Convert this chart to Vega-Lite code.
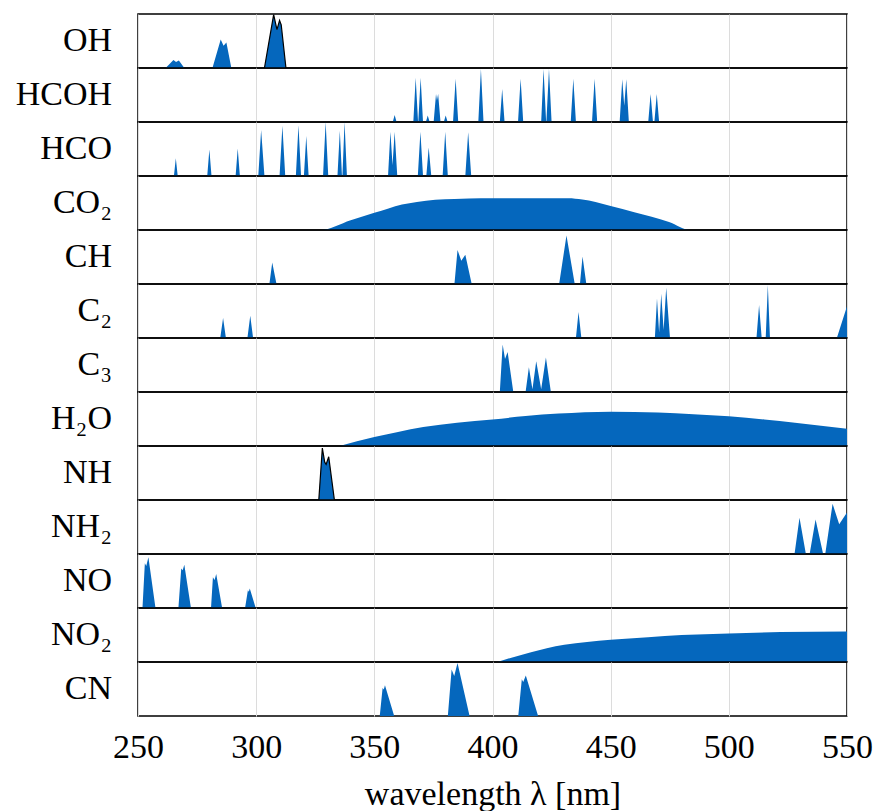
{
"$schema": "https://vega.github.io/schema/vega-lite/v6.json",
"padding": {"left": 15, "top": 13, "right": 0, "bottom": 0},
"bounds": "flush",
"datasets": {"spec": [
{"s":"OH","x":261.7,"y":0},{"s":"OH","x":265.0,"y":0.15},{"s":"OH","x":266.1,"y":0.11},{"s":"OH","x":267.3,"y":0.14},{"s":"OH","x":269.6,"y":0},
{"s":"OH","x":281.5,"y":0},{"s":"OH","x":285.0,"y":0.53},{"s":"OH","x":286.2,"y":0.41},{"s":"OH","x":287.4,"y":0.47},{"s":"OH","x":289.5,"y":0},
{"s":"OH","x":303.5,"y":0},{"s":"OH","x":307.4,"y":0.99},{"s":"OH","x":308.8,"y":0.71},{"s":"OH","x":309.9,"y":0.88},{"s":"OH","x":310.6,"y":0.8},{"s":"OH","x":312.6,"y":0},
{"s":"HCOH","x":300,"y":0},
{"s":"HCOH","x":357.8,"y":0},{"s":"HCOH","x":358.6,"y":0.13},{"s":"HCOH","x":359.4,"y":0},
{"s":"HCOH","x":366.5,"y":0},{"s":"HCOH","x":367.5,"y":0.82},{"s":"HCOH","x":368.5,"y":0},
{"s":"HCOH","x":368.6,"y":0},{"s":"HCOH","x":369.6,"y":0.82},{"s":"HCOH","x":370.6,"y":0},
{"s":"HCOH","x":371.8,"y":0},{"s":"HCOH","x":372.6,"y":0.12},{"s":"HCOH","x":373.4,"y":0},
{"s":"HCOH","x":375.1,"y":0},{"s":"HCOH","x":376.1,"y":0.52},{"s":"HCOH","x":376.5,"y":0.4},{"s":"HCOH","x":377.0,"y":0.52},{"s":"HCOH","x":378.0,"y":0},
{"s":"HCOH","x":379.4,"y":0},{"s":"HCOH","x":380.2,"y":0.12},{"s":"HCOH","x":381.0,"y":0},
{"s":"HCOH","x":383.3,"y":0},{"s":"HCOH","x":384.4,"y":0.8},{"s":"HCOH","x":385.5,"y":0},
{"s":"HCOH","x":394.0,"y":0},{"s":"HCOH","x":395.1,"y":0.98},{"s":"HCOH","x":396.2,"y":0},
{"s":"HCOH","x":403.1,"y":0},{"s":"HCOH","x":404.1,"y":0.61},{"s":"HCOH","x":405.1,"y":0},
{"s":"HCOH","x":410.8,"y":0},{"s":"HCOH","x":411.9,"y":0.8},{"s":"HCOH","x":413.0,"y":0},
{"s":"HCOH","x":420.6,"y":0},{"s":"HCOH","x":421.6,"y":0.98},{"s":"HCOH","x":422.7,"y":0},
{"s":"HCOH","x":422.8,"y":0},{"s":"HCOH","x":423.9,"y":0.98},{"s":"HCOH","x":425.0,"y":0},
{"s":"HCOH","x":433.1,"y":0},{"s":"HCOH","x":434.2,"y":0.8},{"s":"HCOH","x":435.3,"y":0},
{"s":"HCOH","x":442.1,"y":0},{"s":"HCOH","x":443.2,"y":0.8},{"s":"HCOH","x":444.3,"y":0},
{"s":"HCOH","x":453.8,"y":0},{"s":"HCOH","x":454.9,"y":0.79},{"s":"HCOH","x":455.75,"y":0.3},{"s":"HCOH","x":456.6,"y":0.79},{"s":"HCOH","x":457.7,"y":0},
{"s":"HCOH","x":465.9,"y":0},{"s":"HCOH","x":466.9,"y":0.52},{"s":"HCOH","x":467.9,"y":0},
{"s":"HCOH","x":468.5,"y":0},{"s":"HCOH","x":469.5,"y":0.52},{"s":"HCOH","x":470.5,"y":0},
{"s":"HCOH","x":550,"y":0},
{"s":"HCO","x":265.2,"y":0},{"s":"HCO","x":266.0,"y":0.33},{"s":"HCO","x":266.8,"y":0},
{"s":"HCO","x":279.3,"y":0},{"s":"HCO","x":280.2,"y":0.49},{"s":"HCO","x":281.1,"y":0},
{"s":"HCO","x":291.3,"y":0},{"s":"HCO","x":292.2,"y":0.51},{"s":"HCO","x":293.1,"y":0},
{"s":"HCO","x":300.9,"y":0},{"s":"HCO","x":302.1,"y":0.85},{"s":"HCO","x":303.5,"y":0},
{"s":"HCO","x":309.9,"y":0},{"s":"HCO","x":311.1,"y":0.93},{"s":"HCO","x":312.3,"y":0},
{"s":"HCO","x":316.8,"y":0},{"s":"HCO","x":317.9,"y":0.94},{"s":"HCO","x":319.0,"y":0},
{"s":"HCO","x":320.2,"y":0},{"s":"HCO","x":321.2,"y":0.74},{"s":"HCO","x":322.2,"y":0},
{"s":"HCO","x":328.3,"y":0},{"s":"HCO","x":329.4,"y":1.0},{"s":"HCO","x":330.5,"y":0},
{"s":"HCO","x":334.4,"y":0},{"s":"HCO","x":335.4,"y":0.84},{"s":"HCO","x":336.3,"y":0},
{"s":"HCO","x":336.5,"y":0},{"s":"HCO","x":337.4,"y":1.0},{"s":"HCO","x":338.4,"y":0},
{"s":"HCO","x":355.8,"y":0},{"s":"HCO","x":356.8,"y":0.82},{"s":"HCO","x":357.7,"y":0.2},{"s":"HCO","x":358.6,"y":0.82},{"s":"HCO","x":359.7,"y":0},
{"s":"HCO","x":368.4,"y":0},{"s":"HCO","x":369.5,"y":0.82},{"s":"HCO","x":370.6,"y":0},
{"s":"HCO","x":372.0,"y":0},{"s":"HCO","x":373.0,"y":0.53},{"s":"HCO","x":374.1,"y":0},
{"s":"HCO","x":378.9,"y":0},{"s":"HCO","x":380.0,"y":0.82},{"s":"HCO","x":381.1,"y":0},
{"s":"HCO","x":388.5,"y":0},{"s":"HCO","x":389.7,"y":0.81},{"s":"HCO","x":391.0,"y":0},
{"s":"CO₂","x":297,"y":0},{"s":"CO₂","x":327.1,"y":0},{"s":"CO₂","x":340,"y":0.18},{"s":"CO₂","x":350,"y":0.32},{"s":"CO₂","x":356,"y":0.4},{"s":"CO₂","x":361.7,"y":0.47},{"s":"CO₂","x":368,"y":0.52},{"s":"CO₂","x":375.8,"y":0.56},{"s":"CO₂","x":384,"y":0.575},{"s":"CO₂","x":390,"y":0.585},{"s":"CO₂","x":400,"y":0.59},{"s":"CO₂","x":432,"y":0.59},{"s":"CO₂","x":438,"y":0.565},{"s":"CO₂","x":443.6,"y":0.52},{"s":"CO₂","x":450,"y":0.445},{"s":"CO₂","x":460,"y":0.33},{"s":"CO₂","x":474.7,"y":0.15},{"s":"CO₂","x":483.9,"y":0},{"s":"CO₂","x":535,"y":0},
{"s":"CH","x":305.6,"y":0},{"s":"CH","x":306.8,"y":0.4},{"s":"CH","x":308.6,"y":0},
{"s":"CH","x":383.9,"y":0},{"s":"CH","x":385.2,"y":0.63},{"s":"CH","x":386.8,"y":0.43},{"s":"CH","x":388.5,"y":0.54},{"s":"CH","x":391.2,"y":0},
{"s":"CH","x":428.2,"y":0},{"s":"CH","x":431.3,"y":0.9},{"s":"CH","x":434.8,"y":0},
{"s":"CH","x":437.0,"y":0},{"s":"CH","x":438.1,"y":0.51},{"s":"CH","x":439.7,"y":0},
{"s":"C₂","x":284.8,"y":0},{"s":"C₂","x":286.0,"y":0.37},{"s":"C₂","x":287.2,"y":0},
{"s":"C₂","x":296.3,"y":0},{"s":"C₂","x":297.5,"y":0.41},{"s":"C₂","x":298.7,"y":0},
{"s":"C₂","x":435.3,"y":0},{"s":"C₂","x":436.4,"y":0.48},{"s":"C₂","x":437.6,"y":0},
{"s":"C₂","x":468.7,"y":0},{"s":"C₂","x":469.6,"y":0.73},{"s":"C₂","x":470.5,"y":0.1},{"s":"C₂","x":471.4,"y":0.82},{"s":"C₂","x":472.4,"y":0.15},{"s":"C₂","x":473.5,"y":0.93},{"s":"C₂","x":475.1,"y":0},
{"s":"C₂","x":511.7,"y":0},{"s":"C₂","x":512.8,"y":0.61},{"s":"C₂","x":513.9,"y":0},
{"s":"C₂","x":515.6,"y":0},{"s":"C₂","x":516.5,"y":0.98},{"s":"C₂","x":517.4,"y":0},
{"s":"C₂","x":545.7,"y":0},{"s":"C₂","x":550,"y":0.59},
{"s":"C₃","x":403.1,"y":0},{"s":"C₃","x":404.3,"y":0.88},{"s":"C₃","x":405.3,"y":0.61},{"s":"C₃","x":406.4,"y":0.74},{"s":"C₃","x":408.8,"y":0},
{"s":"C₃","x":414.0,"y":0},{"s":"C₃","x":415.4,"y":0.46},{"s":"C₃","x":416.9,"y":0.05},{"s":"C₃","x":418.5,"y":0.57},{"s":"C₃","x":420.6,"y":0.05},{"s":"C₃","x":422.6,"y":0.64},{"s":"C₃","x":424.7,"y":0},
{"s":"H₂O","x":335.3,"y":0},{"s":"H₂O","x":350,"y":0.165},{"s":"H₂O","x":360,"y":0.26},{"s":"H₂O","x":370.7,"y":0.35},{"s":"H₂O","x":385,"y":0.43},{"s":"H₂O","x":400,"y":0.49},{"s":"H₂O","x":414,"y":0.555},{"s":"H₂O","x":428,"y":0.6},{"s":"H₂O","x":450,"y":0.635},{"s":"H₂O","x":470,"y":0.62},{"s":"H₂O","x":485,"y":0.59},{"s":"H₂O","x":500,"y":0.55},{"s":"H₂O","x":515,"y":0.49},{"s":"H₂O","x":528,"y":0.43},{"s":"H₂O","x":550,"y":0.32},
{"s":"NH","x":299.8,"y":0},{"s":"NH","x":326.5,"y":0},{"s":"NH","x":328.0,"y":0.96},{"s":"NH","x":329.0,"y":0.7},{"s":"NH","x":329.6,"y":0.66},{"s":"NH","x":330.7,"y":0.8},{"s":"NH","x":333.1,"y":0},{"s":"NH","x":405.8,"y":0},
{"s":"NH₂","x":527.8,"y":0},{"s":"NH₂","x":529.9,"y":0.67},{"s":"NH₂","x":532.6,"y":0},
{"s":"NH₂","x":534.2,"y":0},{"s":"NH₂","x":536.7,"y":0.64},{"s":"NH₂","x":539.9,"y":0},
{"s":"NH₂","x":540.8,"y":0},{"s":"NH₂","x":543.9,"y":0.93},{"s":"NH₂","x":546.7,"y":0.55},{"s":"NH₂","x":550,"y":0.77},
{"s":"NO","x":251.9,"y":0},{"s":"NO","x":252.9,"y":0.83},{"s":"NO","x":253.5,"y":0.78},{"s":"NO","x":254.4,"y":0.94},{"s":"NO","x":257.4,"y":0},
{"s":"NO","x":267.1,"y":0},{"s":"NO","x":268.3,"y":0.73},{"s":"NO","x":268.9,"y":0.7},{"s":"NO","x":269.6,"y":0.8},{"s":"NO","x":272.4,"y":0},
{"s":"NO","x":280.9,"y":0},{"s":"NO","x":281.7,"y":0.57},{"s":"NO","x":282.4,"y":0.52},{"s":"NO","x":283.1,"y":0.63},{"s":"NO","x":285.6,"y":0},
{"s":"NO","x":295.3,"y":0},{"s":"NO","x":296.5,"y":0.33},{"s":"NO","x":296.9,"y":0.3},{"s":"NO","x":297.3,"y":0.36},{"s":"NO","x":299.8,"y":0},
{"s":"NO₂","x":402.1,"y":0},{"s":"NO₂","x":408,"y":0.08},{"s":"NO₂","x":416.3,"y":0.18},{"s":"NO₂","x":423,"y":0.255},{"s":"NO₂","x":430.4,"y":0.32},{"s":"NO₂","x":440,"y":0.37},{"s":"NO₂","x":450,"y":0.41},{"s":"NO₂","x":465.8,"y":0.46},{"s":"NO₂","x":480,"y":0.5},{"s":"NO₂","x":500,"y":0.53},{"s":"NO₂","x":522,"y":0.555},{"s":"NO₂","x":550,"y":0.565},
{"s":"CN","x":352.3,"y":0},{"s":"CN","x":353.5,"y":0.52},{"s":"CN","x":354.0,"y":0.49},{"s":"CN","x":354.5,"y":0.57},{"s":"CN","x":358.4,"y":0},
{"s":"CN","x":381.1,"y":0},{"s":"CN","x":382.7,"y":0.86},{"s":"CN","x":383.8,"y":0.74},{"s":"CN","x":385.2,"y":0.98},{"s":"CN","x":390.3,"y":0},
{"s":"CN","x":410.9,"y":0},{"s":"CN","x":412.4,"y":0.68},{"s":"CN","x":413.0,"y":0.63},{"s":"CN","x":414.1,"y":0.75},{"s":"CN","x":419.3,"y":0}
]},
"data": {"name": "spec"},
"spacing": {"row": 0, "column": 0},
"facet": {"row": {"field": "s", "type": "nominal", "title": null,
  "sort": ["OH","HCOH","HCO","CO₂","CH","C₂","C₃","H₂O","NH","NH₂","NO","NO₂","CN"],
  "header": {"labelOrient": "left", "labelAngle": 0, "labelAlign": "left", "labelBaseline": "middle", "labelFont": "Liberation Serif", "labelFontSize": 34, "labelColor": "#000", "labelPadding": 26}}},
"spec": {
  "width": 709, "height": 54,
  "layer": [
    {"transform": [{"filter": "datum.s != 'CO₂' && datum.s != 'H₂O' && datum.s != 'NO₂'"}],
     "mark": {"type": "area", "color": "#0567BD", "clip": true},
     "encoding": {
       "x": {"field": "x", "type": "quantitative", "scale": {"domain": [250, 550], "nice": false},
         "axis": {"values": [250,300,350,400,450,500,550], "title": "wavelength λ [nm]", "grid": true, "gridColor": "#dcdcdc", "gridWidth": 1, "ticks": false, "domain": false, "labelFlush": false, "labelOverlap": false, "labelFont": "Liberation Serif", "labelFontSize": 34, "labelColor": "#000", "labelPadding": 14, "titleFont": "Liberation Serif", "titleFontSize": 34, "titleFontWeight": "normal", "titleColor": "#000", "titlePadding": 13}},
       "y": {"field": "y", "type": "quantitative", "scale": {"domain": [0, 1], "nice": false}, "axis": null}
     }},
    {"transform": [{"filter": "datum.s == 'CO₂' || datum.s == 'H₂O' || datum.s == 'NO₂'"}],
     "mark": {"type": "area", "color": "#0567BD", "clip": true, "interpolate": "monotone"},
     "encoding": {
       "x": {"field": "x", "type": "quantitative"},
       "y": {"field": "y", "type": "quantitative"}
     }},
    {"transform": [{"filter": "(datum.s == 'OH' && datum.x > 300) || datum.s == 'NH'"}],
     "mark": {"type": "line", "color": "#000", "strokeWidth": 1.2, "clip": true},
     "encoding": {
       "x": {"field": "x", "type": "quantitative"},
       "y": {"field": "y", "type": "quantitative"}
     }}
  ]
},
"config": {"view": {"stroke": "#000", "strokeWidth": 1.5}, "facet": {"spacing": 0}}
}
